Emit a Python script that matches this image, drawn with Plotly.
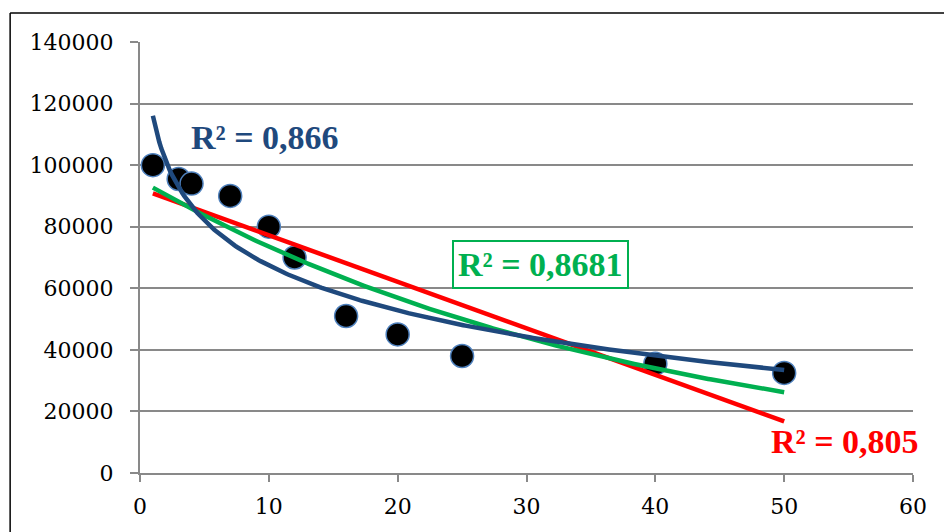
import numpy as np
import plotly.graph_objects as go

# Data
x_vals = [1, 3, 4, 7, 10, 12, 16, 20, 25, 40, 50]
y_vals = [100000, 95500, 94000, 90000, 80000, 70000, 51000, 45000, 38000, 35500, 32500]

x_ticks = [0, 10, 20, 30, 40, 50, 60]
y_ticks = [0, 20000, 40000, 60000, 80000, 100000, 120000, 140000]

r2_labels = ["R² = 0,866", "R² = 0,8681", "R² = 0,805"]

x = np.array(x_vals, dtype=float)
y = np.array(y_vals, dtype=float)

# Trendlines fitted to the data (as the spreadsheet does)
xf = np.linspace(x.min(), x.max(), 300)
lin = np.polyfit(x, y, 1)
y_lin = np.polyval(lin, xf)
lg = np.polyfit(np.log(x), y, 1)
y_log = lg[0] * np.log(xf) + lg[1]
ex = np.polyfit(x, np.log(y), 1)
y_exp = np.exp(ex[1]) * np.exp(ex[0] * xf)

BLUE = "#1F497D"
RED = "#FF0000"
GREEN = "#00B050"
GRID = "#898989"

fig = go.Figure()
fig.add_trace(go.Scatter(
    x=x_vals, y=y_vals, mode="markers",
    marker=dict(size=23, color="black", line=dict(color="#4F81BD", width=1.5)),
    showlegend=False))
fig.add_trace(go.Scatter(x=xf, y=y_lin, mode="lines",
                         line=dict(color=RED, width=4.5), showlegend=False))
fig.add_trace(go.Scatter(x=xf, y=y_exp, mode="lines",
                         line=dict(color=GREEN, width=4.5), showlegend=False))
fig.add_trace(go.Scatter(x=xf, y=y_log, mode="lines",
                         line=dict(color=BLUE, width=4.5), showlegend=False))

lab_font = "Liberation Serif"
lab_size = 34
fig.add_annotation(x=9.7, y=109100, text=r2_labels[0], showarrow=False,
                   font=dict(family=lab_font, size=lab_size, color=BLUE, weight="bold"),
                   xanchor="center", yanchor="middle")
fig.add_annotation(x=31.1, y=67600, text=r2_labels[1], showarrow=False,
                   font=dict(family=lab_font, size=lab_size, color=GREEN, weight="bold"),
                   xanchor="center", yanchor="middle",
                   bordercolor=GREEN, borderwidth=2, borderpad=4, bgcolor="white")
fig.add_annotation(x=54.7, y=10100, text=r2_labels[2], showarrow=False,
                   font=dict(family=lab_font, size=lab_size, color=RED, weight="bold"),
                   xanchor="center", yanchor="middle")

# Outer chart frame (left and top edges; the rest lies outside the window)
fig.add_shape(type="line", xref="paper", yref="paper",
              x0=-0.168, x1=-0.168, y0=-0.3, y1=1.0673,
              line=dict(color="black", width=1.5), layer="below")
fig.add_shape(type="line", xref="paper", yref="paper",
              x0=-0.168, x1=1.2, y0=1.0673, y1=1.0673,
              line=dict(color="black", width=1.5), layer="below")

# Plot area at x 140..913, y 42..473 in the window
fig.update_layout(
    width=944, height=532,
    margin=dict(l=140, r=31, t=42, b=59),
    paper_bgcolor="white", plot_bgcolor="white",
    font=dict(family="DejaVu Serif", size=22, color="black"),
)
fig.update_xaxes(range=[0, 60], tickvals=x_ticks, showgrid=False,
                 showline=True, linecolor=GRID, linewidth=2,
                 ticks="outside", ticklen=7, tickcolor=GRID, tickwidth=2,
                 zeroline=False, ticklabelstandoff=6, automargin=False)
fig.update_yaxes(range=[0, 140000], tickvals=y_ticks, tickformat="d",
                 showgrid=True, gridcolor=GRID, gridwidth=1.5,
                 showline=True, linecolor=GRID, linewidth=2,
                 ticks="outside", ticklen=8, tickcolor=GRID, tickwidth=2,
                 zeroline=False, ticklabelstandoff=12, automargin=False)

fig.write_html(
    "out.html",
    config={"displayModeBar": False},
    post_script="document.body.style.margin='0';"
                "document.body.style.overflow='hidden';"
                "document.documentElement.style.overflow='hidden';",
)
